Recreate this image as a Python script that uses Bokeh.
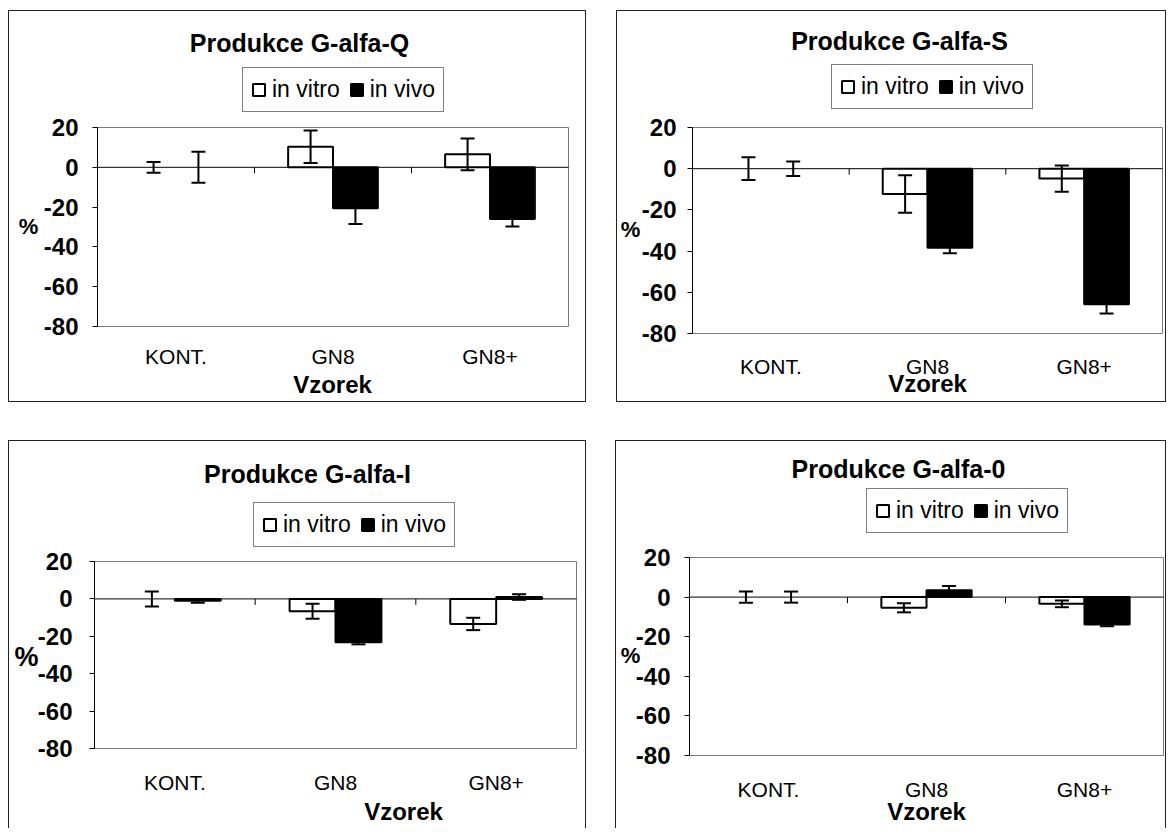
from bokeh.plotting import figure
from bokeh.models import (Range1d, FixedTicker, LinearAxis, Legend, LegendItem, Label,
                          Whisker, TeeHead, ColumnDataSource, Spacer)
from bokeh.layouts import column, row
from bokeh.embed import file_html
from bokeh.resources import INLINE

# ---------------- data ----------------
categories = ["KONT.", "GN8", "GN8+"]
series_names = ["in vitro", "in vivo"]
y_ticks = [-80, -60, -40, -20, 0, 20]
x_title = "Vzorek"
y_title = "%"

title_q = "Produkce G-alfa-Q"
q_vitro = [0.0, 10.3, 6.5]
q_vitro_err = [2.7, 8.2, 8.0]
q_vivo = [0.0, -20.6, -26.0]
q_vivo_err = [7.8, 7.9, 3.8]

title_s = "Produkce G-alfa-S"
s_vitro = [0.0, -12.3, -4.8]
s_vitro_err = [5.5, 9.1, 6.4]
s_vivo = [0.0, -38.4, -65.8]
s_vivo_err = [3.5, 2.7, 4.5]

title_i = "Produkce G-alfa-I"
i_vitro = [0.0, -6.6, -13.4]
i_vitro_err = [4.0, 4.0, 3.3]
i_vivo = [-1.0, -23.2, 1.0]
i_vivo_err = [1.0, 1.1, 1.5]

title_o = "Produkce G-alfa-0"
o_vitro = [0.0, -5.4, -3.4]
o_vitro_err = [2.8, 2.3, 1.7]
o_vivo = [0.0, 3.4, -13.8]
o_vivo_err = [2.8, 2.2, 0.9]

FONT = "Liberation Sans"


def make_panel(title, vitro, vitro_err, vivo, vivo_err, width, height, area,
               tick_standoff, cat_standoff, title_pos, legend_pos, pct_pos, pct_size,
               vz_pos, styles):
    """area = (left, right, top, bottom) of the plot area in pixels inside the figure."""
    a_left, a_right, a_top, a_bottom = area
    n = len(categories)
    ymin, ymax = min(y_ticks), max(y_ticks)
    ky = (a_bottom - a_top) / (ymax - ymin)
    kx = (a_right - a_left) / n
    x_range = Range1d(-a_left / kx, n + (width - a_right) / kx)
    y_range = Range1d(ymin - (height - a_bottom) / ky, ymax + a_top / ky)

    p = figure(width=width, height=height, x_range=x_range, y_range=y_range,
               output_backend="svg", toolbar_location=None,
               min_border_left=0, min_border_right=0, min_border_top=0, min_border_bottom=0,
               x_axis_type=None, y_axis_type=None, styles=styles)
    p.outline_line_color = None
    p.background_fill_color = "white"
    p.border_fill_color = "white"

    # plot area box
    p.quad(left=[0], right=[n], bottom=[ymin], top=[ymax], fill_color=None,
           line_color="#7a7a7a", line_width=1)

    yax = LinearAxis(fixed_location=0, ticker=FixedTicker(ticks=y_ticks), bounds=(ymin, ymax),
                     major_label_overrides={t: str(t) for t in y_ticks},
                     major_tick_out=5, major_tick_in=0,
                     minor_tick_line_color=None, axis_line_color="black",
                     major_tick_line_color="black",
                     major_label_text_font=FONT, major_label_text_font_size="24px",
                     major_label_text_font_style="bold", major_label_text_color="black",
                     major_label_standoff=tick_standoff)
    p.add_layout(yax, "left")

    centers = [i + 0.5 for i in range(n)]
    xax = LinearAxis(fixed_location=ymin, ticker=FixedTicker(ticks=centers),
                     major_label_overrides={c: name for c, name in zip(centers, categories)},
                     axis_line_color=None, major_tick_line_color=None, minor_tick_line_color=None,
                     major_tick_out=0, major_tick_in=0, major_label_standoff=cat_standoff,
                     major_label_text_font=FONT, major_label_text_font_size="21px",
                     major_label_text_color="black")
    p.add_layout(xax, "below")

    # category axis crossing at zero, with tick marks between categories
    bounds = list(range(1, n))
    p.segment(x0=[0], x1=[n], y0=[0], y1=[0], line_color="black", line_width=1)
    p.segment(x0=bounds, x1=bounds, y0=[0] * len(bounds), y1=[-6 / ky] * len(bounds),
              line_color="black", line_width=1)

    w = 1 / 3.5
    src = ColumnDataSource(dict(
        xv=[c - w / 2 for c in centers],
        xi=[c + w / 2 for c in centers],
        vitro=vitro, vivo=vivo,
        vitro_edge=[0.0 if v == 0 else 1.0 for v in vitro],
        vivo_edge=[0.0 if v == 0 else 1.0 for v in vivo],
        vitro_up=[v + e for v, e in zip(vitro, vitro_err)],
        vitro_lo=[v - e for v, e in zip(vitro, vitro_err)],
        vivo_up=[v + e for v, e in zip(vivo, vivo_err)],
        vivo_lo=[v - e for v, e in zip(vivo, vivo_err)],
    ))
    r1 = p.vbar(x="xv", top="vitro", bottom=0, width=w, fill_color="white",
                line_color="black", line_width=2, line_alpha="vitro_edge", source=src)
    r2 = p.vbar(x="xi", top="vivo", bottom=0, width=w, fill_color="black",
                line_color="black", line_width=2, line_alpha="vivo_edge", source=src)

    for base, up, lo in (("xv", "vitro_up", "vitro_lo"), ("xi", "vivo_up", "vivo_lo")):
        wk = Whisker(source=src, base=base, upper=up, lower=lo, dimension="height",
                     line_color="black", line_width=2, level="annotation",
                     upper_head=TeeHead(size=14, line_color="black", line_width=2),
                     lower_head=TeeHead(size=14, line_color="black", line_width=2))
        p.add_layout(wk)

    # legend swatches taken from a row whose bar is actually drawn
    idx_vitro = next(i for i, v in enumerate(vitro) if v != 0)
    idx_vivo = next(i for i, v in enumerate(vivo) if v != 0)
    legend = Legend(items=[LegendItem(label=series_names[0], renderers=[r1], index=idx_vitro),
                           LegendItem(label=series_names[1], renderers=[r2], index=idx_vivo)],
                    orientation="horizontal", location=legend_pos,
                    label_text_font=FONT, label_text_font_size="23px", label_text_color="black",
                    glyph_width=15, glyph_height=15, label_standoff=6, spacing=9,
                    padding=8, margin=0, border_line_color="black", border_line_width=1,
                    background_fill_color="white", background_fill_alpha=1)
    p.add_layout(legend)

    p.add_layout(Label(x=title_pos[0], y=title_pos[1], x_units="screen", y_units="screen",
                       text=title, text_align="center", text_baseline="middle",
                       text_font=FONT, text_font_size="25px", text_font_style="bold",
                       text_color="black"))
    p.add_layout(Label(x=pct_pos[0], y=pct_pos[1], x_units="screen", y_units="screen",
                       text=y_title, text_align="center", text_baseline="middle",
                       text_font=FONT, text_font_size=pct_size, text_font_style="bold",
                       text_color="black"))
    p.add_layout(Label(x=vz_pos[0], y=vz_pos[1], x_units="screen", y_units="screen",
                       text=x_title, text_align="center", text_baseline="middle",
                       text_font=FONT, text_font_size="24px", text_font_style="bold",
                       text_color="black"))
    return p


full_border = {"border": "1px solid #222"}
open_border = {"border-top": "1px solid #222", "border-left": "1px solid #222",
               "border-right": "1px solid #222"}

p1 = make_panel(title_q, q_vitro, q_vitro_err, q_vivo, q_vivo_err, 578, 392,
                area=(88, 559, 116, 315), tick_standoff=14, cat_standoff=18,
                title_pos=(290, 361), legend_pos=(233, 291), pct_pos=(19, 177),
                pct_size="22px", vz_pos=(323, 19), styles=full_border)
p2 = make_panel(title_s, s_vitro, s_vitro_err, s_vivo, s_vivo_err, 550, 392,
                area=(75, 545, 116, 322), tick_standoff=11, cat_standoff=21,
                title_pos=(282, 363), legend_pos=(214, 294), pct_pos=(13, 174),
                pct_size="22px", vz_pos=(310, 20), styles=full_border)
p3 = make_panel(title_i, i_vitro, i_vitro_err, i_vivo, i_vivo_err, 578, 388,
                area=(85, 567, 120, 307), tick_standoff=17, cat_standoff=22,
                title_pos=(298, 356), legend_pos=(244, 282), pct_pos=(17, 173),
                pct_size="27px", vz_pos=(394, 18), styles=open_border)
p4 = make_panel(title_o, o_vitro, o_vitro_err, o_vivo, o_vivo_err, 551, 388,
                area=(73, 547, 116, 314), tick_standoff=14, cat_standoff=22,
                title_pos=(282, 361), legend_pos=(250, 296), pct_pos=(14, 174),
                pct_size="22px", vz_pos=(310, 18), styles=open_border)

layout = column(Spacer(height=10),
                row(Spacer(width=8), p1, Spacer(width=30), p2),
                Spacer(height=38),
                row(Spacer(width=8), p3, Spacer(width=29), p4))

open("out.html", "w").write(file_html(layout, INLINE))
